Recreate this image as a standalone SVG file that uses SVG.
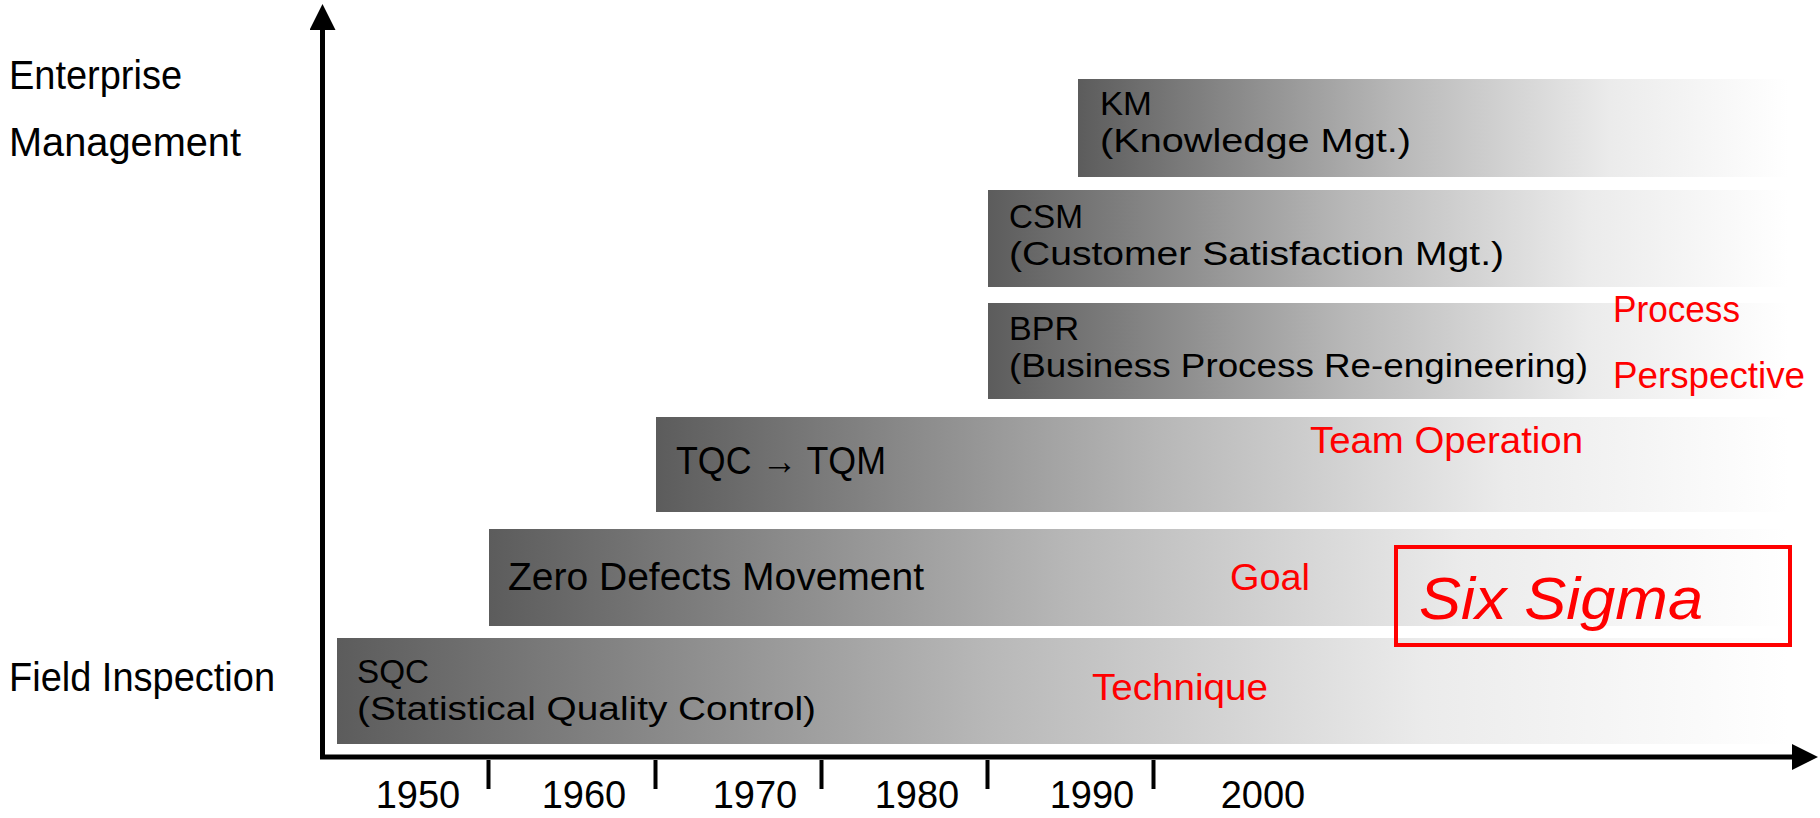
<svg xmlns="http://www.w3.org/2000/svg" width="1820" height="818" viewBox="0 0 1820 818">
<style>
text{font-family:"Liberation Sans",Arial,sans-serif;}
.lbl{font-size:40px;fill:#000;}
.bt{font-size:38px;fill:#000;}
.bt2{font-size:33px;fill:#000;}
.yr{font-size:38px;fill:#000;text-anchor:middle;}
.red{font-size:37px;fill:#ff0000;}
.bar{fill:url(#g);}
.ax{stroke:#000;stroke-width:5;fill:none;}
.tk{stroke:#000;stroke-width:4;}
</style>
<defs>
<linearGradient id="g" x1="0" y1="0" x2="1" y2="0">
<stop offset="0" stop-color="#5c5c5c"/>
<stop offset="0.45" stop-color="#b8b8b8"/>
<stop offset="0.75" stop-color="#ebebeb"/>
<stop offset="1" stop-color="#ffffff"/>
</linearGradient>
<marker id="ah" markerUnits="userSpaceOnUse" markerWidth="26" markerHeight="26" viewBox="0 0 26 26" refX="0" refY="13" orient="auto">
<path d="M0,0 L26,13 L0,26 z" fill="#000"/>
</marker>
</defs>
<rect width="1820" height="818" fill="#fff"/>

<g id="axis-labels">
<text class="lbl" x="9" y="89" textLength="173" lengthAdjust="spacingAndGlyphs">Enterprise</text>
<text class="lbl" x="9" y="156" textLength="232" lengthAdjust="spacingAndGlyphs">Management</text>
<text class="lbl" x="9" y="691" textLength="266" lengthAdjust="spacingAndGlyphs">Field Inspection</text>
</g>

<g id="km">
<rect class="bar" x="1078" y="79" width="710" height="98"/>
<text class="bt2" x="1100" y="115" textLength="52" lengthAdjust="spacingAndGlyphs">KM</text>
<text class="bt2" x="1100" y="152" textLength="311" lengthAdjust="spacingAndGlyphs">(Knowledge Mgt.)</text>
</g>
<g id="csm">
<rect class="bar" x="988" y="190" width="800" height="97"/>
<text class="bt2" x="1009" y="228" textLength="74" lengthAdjust="spacingAndGlyphs">CSM</text>
<text class="bt2" x="1009" y="265" textLength="495" lengthAdjust="spacingAndGlyphs">(Customer Satisfaction Mgt.)</text>
</g>
<g id="bpr">
<rect class="bar" x="988" y="303" width="800" height="96"/>
<text class="bt2" x="1009" y="340" textLength="70" lengthAdjust="spacingAndGlyphs">BPR</text>
<text class="bt2" x="1009" y="377" textLength="579" lengthAdjust="spacingAndGlyphs">(Business Process Re-engineering)</text>
</g>
<g id="tqm">
<rect class="bar" x="656" y="417" width="1132" height="95"/>
<text class="bt" x="676" y="474" textLength="210" lengthAdjust="spacingAndGlyphs">TQC → TQM</text>
</g>
<g id="zd">
<rect class="bar" x="489" y="529" width="1299" height="97"/>
<text class="bt" x="508" y="590" textLength="416" lengthAdjust="spacingAndGlyphs">Zero Defects Movement</text>
</g>
<g id="sqc">
<rect class="bar" x="337" y="638" width="1451" height="106"/>
<text class="bt2" x="357" y="683" textLength="72" lengthAdjust="spacingAndGlyphs">SQC</text>
<text class="bt2" x="357" y="720" textLength="459" lengthAdjust="spacingAndGlyphs">(Statistical Quality Control)</text>
</g>

<g id="annotations">
<text class="red" x="1613" y="322" textLength="127" lengthAdjust="spacingAndGlyphs">Process</text>
<text class="red" x="1613" y="388" textLength="192" lengthAdjust="spacingAndGlyphs">Perspective</text>
<text class="red" x="1310" y="453" textLength="273" lengthAdjust="spacingAndGlyphs">Team Operation</text>
<text class="red" x="1230" y="590" textLength="80" lengthAdjust="spacingAndGlyphs">Goal</text>
<text class="red" x="1092" y="700" textLength="176" lengthAdjust="spacingAndGlyphs">Technique</text>
</g>

<g id="six-sigma">
<rect x="1396" y="547" width="394" height="98" fill="none" stroke="#ff0000" stroke-width="4"/>
<text x="1419" y="619" font-size="60" font-style="italic" fill="#ff0000" textLength="284" lengthAdjust="spacingAndGlyphs">Six Sigma</text>
</g>

<g id="connectors">
<line class="ax" x1="322.5" y1="759" x2="322.5" y2="30" marker-end="url(#ah)"/>
<line class="ax" x1="320" y1="757" x2="1792" y2="757" marker-end="url(#ah)"/>
<line class="tk" x1="488.5" y1="760" x2="488.5" y2="789"/>
<line class="tk" x1="655.5" y1="760" x2="655.5" y2="789"/>
<line class="tk" x1="821.5" y1="760" x2="821.5" y2="789"/>
<line class="tk" x1="987.5" y1="760" x2="987.5" y2="789"/>
<line class="tk" x1="1153.5" y1="760" x2="1153.5" y2="789"/>
</g>

<g id="years">
<text class="yr" x="418" y="808">1950</text>
<text class="yr" x="584" y="808">1960</text>
<text class="yr" x="755" y="808">1970</text>
<text class="yr" x="917" y="808">1980</text>
<text class="yr" x="1092" y="808">1990</text>
<text class="yr" x="1263" y="808">2000</text>
</g>
</svg>
